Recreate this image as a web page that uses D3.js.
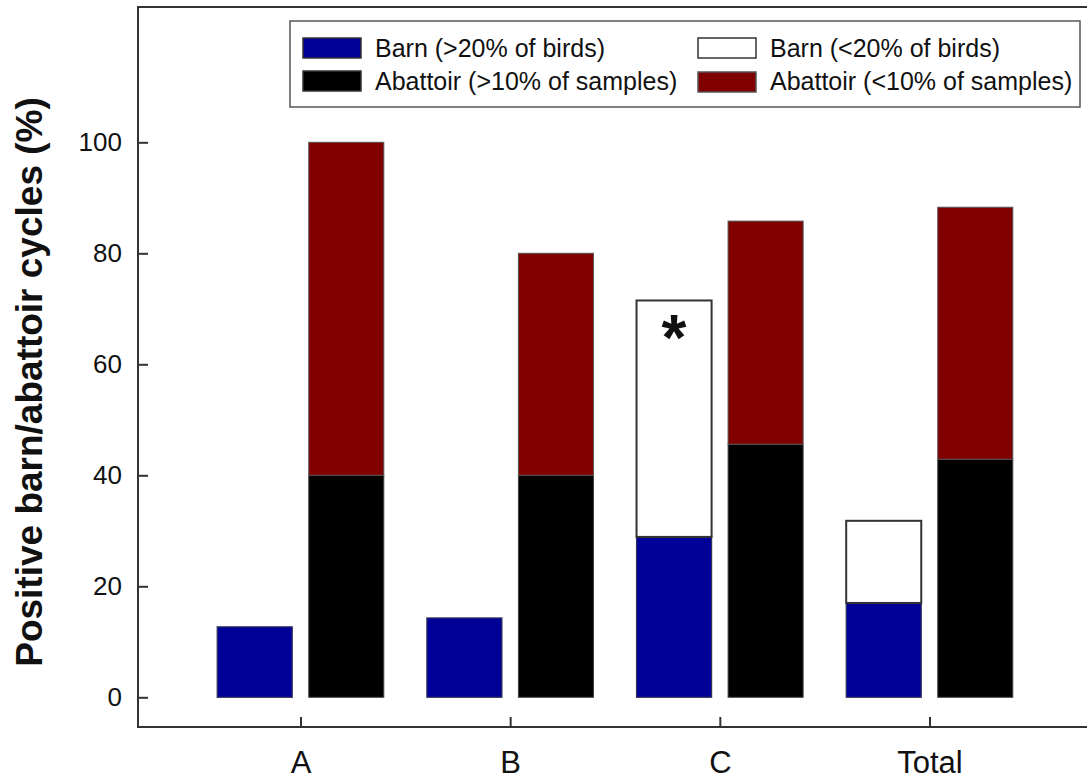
<!DOCTYPE html>
<html>
<head>
<meta charset="utf-8">
<script src="https://cdn.jsdelivr.net/npm/d3@7"></script>
<style>
  html, body { margin: 0; padding: 0; background: #fff; }
  svg { display: block; font-family: Arial, "Liberation Sans", sans-serif; }
</style>
</head>
<body>
<svg id="chart" width="1087" height="780"></svg>
<script>
// Farms / groups on the x axis
const categories = ["A", "B", "C", "Total"];
// Barn cycles (% positive), split by share of birds positive
const barnHigh = [12.7, 14.3, 28.9, 17.0];   // >20% of birds
const barnLow  = [0, 0, 42.6, 14.8];         // <20% of birds
// Abattoir cycles (% positive), split by share of samples positive
const abattoirHigh = [40, 40, 45.6, 42.9];   // >10% of samples
const abattoirLow  = [60, 40, 40.2, 45.4];   // <10% of samples
const yTicks = [0, 20, 40, 60, 80, 100];

const legendItems = [
  { label: "Barn (>20% of birds)", fill: "#000099", stroke: "#333" },
  { label: "Abattoir (>10% of samples)", fill: "#000000", stroke: "#333" },
  { label: "Barn (<20% of birds)", fill: "#ffffff", stroke: "#333" },
  { label: "Abattoir (<10% of samples)", fill: "#800000", stroke: "#555" }
];

const svg = d3.select("#chart");
const axisColor = "#333";

// scales
const x = d3.scalePoint().domain(categories).range([300.5, 929.5]);
const sub = d3.scaleBand().domain(["barn", "abattoir"]).range([-83.3, 83.3]).paddingInner(0.18);
const y = d3.scaleLinear().domain([0, 100]).range([697.3, 142.3]);

// stacked segments
const rows = categories.map((c, i) => ({
  cat: c,
  barnHigh: barnHigh[i], barnLow: barnLow[i],
  abattoirHigh: abattoirHigh[i], abattoirLow: abattoirLow[i]
}));
const barnStack = d3.stack().keys(["barnHigh", "barnLow"])(rows);
const abStack = d3.stack().keys(["abattoirHigh", "abattoirLow"])(rows);

const styles = {
  barnHigh: { fill: "#000099", stroke: "#33335a", sw: 1.2 },
  barnLow: { fill: "#ffffff", stroke: "#333", sw: 2 },
  abattoirHigh: { fill: "#000000", stroke: "#444", sw: 1 },
  abattoirLow: { fill: "#800000", stroke: "#555", sw: 1 }
};

function drawStack(stack, group) {
  stack.forEach(layer => {
    const st = styles[layer.key];
    svg.append("g")
      .selectAll("rect")
      .data(layer.filter(d => d[1] - d[0] > 0))
      .join("rect")
      .attr("x", d => x(d.data.cat) + sub(group))
      .attr("width", sub.bandwidth())
      .attr("y", d => y(d[1]))
      .attr("height", d => y(d[0]) - y(d[1]))
      .attr("fill", st.fill)
      .attr("stroke", st.stroke)
      .attr("stroke-width", st.sw);
  });
}
drawStack(barnStack, "barn");
drawStack(abStack, "abattoir");

// significance mark on the C barn bar
svg.append("text")
  .attr("x", x("C") + sub("barn") + sub.bandwidth() / 2)
  .attr("y", y(barnHigh[2] + barnLow[2]) + 60)
  .attr("text-anchor", "middle")
  .attr("font-size", 64)
  .attr("font-weight", "bold")
  .attr("fill", "#111")
  .text("*");

// frame lines
const frame = svg.append("g").attr("stroke", axisColor).attr("stroke-width", 2).attr("fill", "none");
frame.append("line").attr("x1", 138).attr("x2", 1090).attr("y1", 7).attr("y2", 7);
frame.append("line").attr("x1", 138).attr("x2", 138).attr("y1", 6).attr("y2", 728);
frame.append("line").attr("x1", 137).attr("x2", 1090).attr("y1", 727).attr("y2", 727);

// y axis
const yAxis = svg.append("g")
  .attr("transform", "translate(138,0)")
  .call(d3.axisLeft(y).tickValues(yTicks).tickSizeInner(-10).tickSizeOuter(0).tickPadding(16));
yAxis.select(".domain").remove();
yAxis.selectAll(".tick line").attr("stroke", axisColor).attr("stroke-width", 2);
yAxis.selectAll(".tick text")
  .attr("font-size", 26)
  .attr("font-family", "Arial, 'Liberation Sans', sans-serif")
  .attr("fill", "#111");

// x axis
const xAxis = svg.append("g")
  .attr("transform", "translate(0,727)")
  .call(d3.axisBottom(x).tickSizeInner(-10).tickSizeOuter(0).tickPadding(24));
xAxis.select(".domain").remove();
xAxis.selectAll(".tick line").attr("stroke", axisColor).attr("stroke-width", 2);
xAxis.selectAll(".tick text")
  .attr("font-size", 31)
  .attr("font-family", "Arial, 'Liberation Sans', sans-serif")
  .attr("fill", "#111");

// y axis title
svg.append("text")
  .attr("transform", "translate(42,382) rotate(-90)")
  .attr("text-anchor", "middle")
  .attr("font-size", 37)
  .attr("font-weight", "bold")
  .attr("fill", "#111")
  .text("Positive barn/abattoir cycles (%)");

// legend
const legend = svg.append("g");
legend.append("rect")
  .attr("x", 290).attr("y", 21).attr("width", 790).attr("height", 86)
  .attr("fill", "#fff").attr("stroke", "#555").attr("stroke-width", 1.5);

const legendPos = [
  { sx: 303, sy: 38, tx: 375, ty: 57 },
  { sx: 303, sy: 71, tx: 375, ty: 90 },
  { sx: 698, sy: 38, tx: 770, ty: 57 },
  { sx: 698, sy: 72, tx: 770, ty: 90 }
];
const li = legend.selectAll("g.item")
  .data(legendItems)
  .join("g")
  .attr("class", "item");
li.append("rect")
  .attr("x", (d, i) => legendPos[i].sx)
  .attr("y", (d, i) => legendPos[i].sy)
  .attr("width", 58).attr("height", 20)
  .attr("fill", d => d.fill)
  .attr("stroke", d => d.stroke)
  .attr("stroke-width", 1.5);
li.append("text")
  .attr("x", (d, i) => legendPos[i].tx)
  .attr("y", (d, i) => legendPos[i].ty)
  .attr("font-size", 25)
  .attr("fill", "#111")
  .text(d => d.label);
</script>
</body>
</html>
